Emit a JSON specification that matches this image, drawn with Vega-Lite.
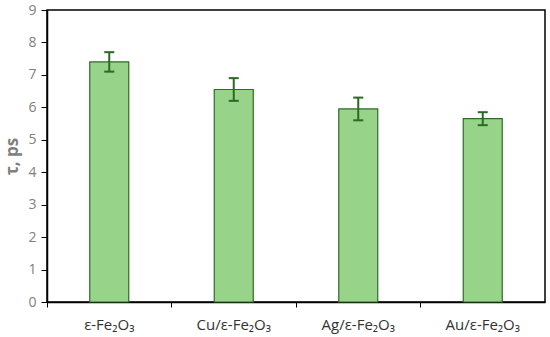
{
  "$schema": "https://vega.github.io/schema/vega-lite/v6.json",
  "width": 498,
  "height": 292,
  "padding": {"left": 3, "top": 3, "right": 5, "bottom": 5},
  "background": "white",
  "config": {
    "view": {"stroke": "#000000", "strokeWidth": 1.5},
    "font": "Open Sans",
    "axisY": {
      "titleFontSize": 17,
      "titleFontWeight": "bold",
      "titleColor": "#7f7f7f",
      "titlePadding": 6,
      "labelFontSize": 14,
      "labelColor": "#7f7f7f",
      "labelPadding": 5,
      "labelOverlap": false,
      "grid": false,
      "tickColor": "#000000",
      "tickSize": 6,
      "domainColor": "#000000",
      "domainWidth": 1.5
    }
  },
  "data": {
    "values": [
      {"sample": "ε-Fe₂O₃", "tau": 7.4, "err": 0.3},
      {"sample": "Cu/ε-Fe₂O₃", "tau": 6.55, "err": 0.35},
      {"sample": "Ag/ε-Fe₂O₃", "tau": 5.95, "err": 0.35},
      {"sample": "Au/ε-Fe₂O₃", "tau": 5.65, "err": 0.2}
    ]
  },
  "transform": [
    {"calculate": "datum.tau - datum.err", "as": "lo"},
    {"calculate": "datum.tau + datum.err", "as": "hi"}
  ],
  "encoding": {
    "x": {
      "field": "sample",
      "type": "nominal",
      "sort": null,
      "scale": {"paddingInner": 0, "paddingOuter": 0},
      "axis": {
        "title": null,
        "labelAngle": 0,
        "labelFontSize": 15,
        "labelColor": "#333333",
        "labelPadding": 10,
        "bandPosition": 0,
        "tickColor": "#000000",
        "tickSize": 5,
        "domainColor": "#000000",
        "domainWidth": 1.5
      }
    }
  },
  "layer": [
    {
      "mark": {"type": "bar", "width": 39, "fill": "#98d38a", "stroke": "#2f6b27", "strokeWidth": 1.2},
      "encoding": {
        "y": {
          "field": "tau",
          "type": "quantitative",
          "scale": {"domain": [0, 9], "nice": false},
          "axis": {"title": "τ, ps", "values": [0, 1, 2, 3, 4, 5, 6, 7, 8, 9]}
        }
      }
    },
    {
      "mark": {"type": "rule", "color": "#2a6a22", "strokeWidth": 2},
      "encoding": {
        "y": {"field": "lo", "type": "quantitative", "axis": {"title": "τ, ps", "values": [0, 1, 2, 3, 4, 5, 6, 7, 8, 9]}},
        "y2": {"field": "hi"}
      }
    },
    {
      "mark": {"type": "tick", "color": "#2a6a22", "opacity": 1, "thickness": 2, "size": 10, "orient": "horizontal"},
      "encoding": {"y": {"field": "lo", "type": "quantitative", "axis": {"title": "τ, ps", "values": [0, 1, 2, 3, 4, 5, 6, 7, 8, 9]}}}
    },
    {
      "mark": {"type": "tick", "color": "#2a6a22", "opacity": 1, "thickness": 2, "size": 10, "orient": "horizontal"},
      "encoding": {"y": {"field": "hi", "type": "quantitative", "axis": {"title": "τ, ps", "values": [0, 1, 2, 3, 4, 5, 6, 7, 8, 9]}}}
    }
  ]
}
